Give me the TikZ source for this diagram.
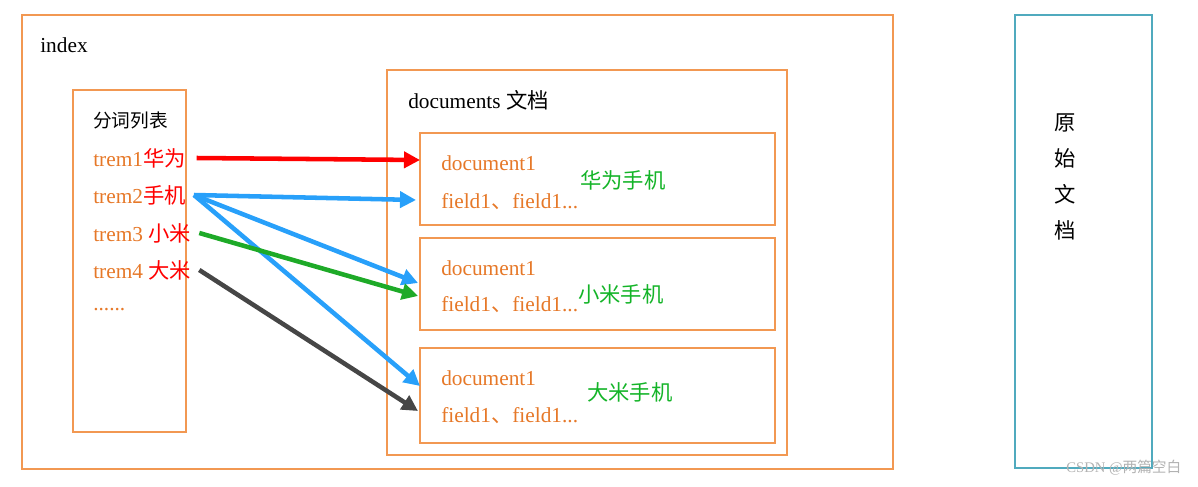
\documentclass[tikz,border=0pt]{standalone}
\usepackage{fontspec}
\newfontfamily\cjk{Noto Sans CJK SC}
\setmainfont{Liberation Serif}
\usetikzlibrary{arrows.meta}
\definecolor{boxorange}{RGB}{242,152,82}
\definecolor{txtorange}{RGB}{230,120,40}
\definecolor{boxteal}{RGB}{80,170,190}
\definecolor{arrblue}{RGB}{40,160,250}
\definecolor{arrgreen}{RGB}{30,170,40}
\definecolor{arrgray}{RGB}{70,70,70}
\definecolor{lblgreen}{RGB}{20,180,40}
\begin{document}
\begin{tikzpicture}[x=0.75pt,y=-0.75pt,
	frame/.style={
	  draw=boxorange,
	  line width=2pt
	},
	term/.style={
	  anchor=west,
	  inner sep=0pt,
	  font=\fontsize{16}{18}\selectfont,
	  text=txtorange
	},
	link/.style={
	  line width=3.4pt,
	  -{Triangle[length=12pt,width=12pt]}
	}
]
\useasboundingbox (0,0) rectangle (1198,486);

% frames
\draw[frame] (22,15) rectangle (893,469);
\draw[frame] (73,90) rectangle (186,432);
\draw[frame] (387,70) rectangle (787,455);
\draw[frame] (420,133) rectangle (775,225);
\draw[frame] (420,238) rectangle (775,330);
\draw[frame] (420,348) rectangle (775,443);
\draw[draw=boxteal,line width=2pt] (1015,15) rectangle (1152,468);

\node[term,text=black] (idx) at (40,45) {index};
\node[term,text=black] (list) at (93,120) {\cjk\fontsize{14}{16}\selectfont 分词列表};
\node[term] (t1) at (93,158) {trem1\textcolor{red}{\cjk 华为}};
\node[term] (t2) at (93,195) {trem2\textcolor{red}{\cjk 手机}};
\node[term] (t3) at (93,233) {trem3 \textcolor{red}{\cjk 小米}};
\node[term] (t4) at (93,270) {trem4 \textcolor{red}{\cjk 大米}};
\node[term] (dots) at (93,310) {......};

\node[term,text=black] (docs) at (408,100) {documents {\cjk 文档}};

% documents
\node[term] (d1) at (441,163) {document1};
\node[term] (f1) at (441,202) {field1{\cjk 、}field1...};
\node[term] (d2) at (441,268) {document1};
\node[term] (f2) at (441,305) {field1{\cjk 、}field1...};
\node[term] (d3) at (441,378) {document1};
\node[term] (f3) at (441,416) {field1{\cjk 、}field1...};

\node[term,text=lblgreen] (g1) at (580,180) {\cjk 华为手机};
\node[term,text=lblgreen] (g2) at (578,294) {\cjk 小米手机};
\node[term,text=lblgreen] (g3) at (587,392) {\cjk 大米手机};

\node[font=\fontsize{16}{18}\selectfont,align=center] (raw) at (1065,177)
  {\cjk 原\\[9pt]\cjk 始\\[9pt]\cjk 文\\[9pt]\cjk 档};

\node[anchor=east,text=gray!60,font=\fontsize{11}{13}\selectfont] (mark) at (1186,468) {CSDN @{\cjk 两篇空白}};

% links
\coordinate (a1) at (420,160);
\coordinate (a2) at (416,200);
\coordinate (a3) at (418,283);
\coordinate (a4) at (420,386);
\coordinate (a5) at (418,296);
\coordinate (a6) at (418,411);
\draw[link,red] ([xshift=8pt]t1.east) -- (a1);
\draw[link,arrblue] ([xshift=6pt]t2.east) -- (a2);
\draw[link,arrblue] ([xshift=6pt]t2.east) -- (a3);
\draw[link,arrblue] ([xshift=6pt]t2.east) -- (a4);
\draw[link,arrgreen] ([xshift=6pt]t3.east) -- (a5);
\draw[link,arrgray] ([xshift=6pt]t4.east) -- (a6);

\end{tikzpicture}
\end{document}
